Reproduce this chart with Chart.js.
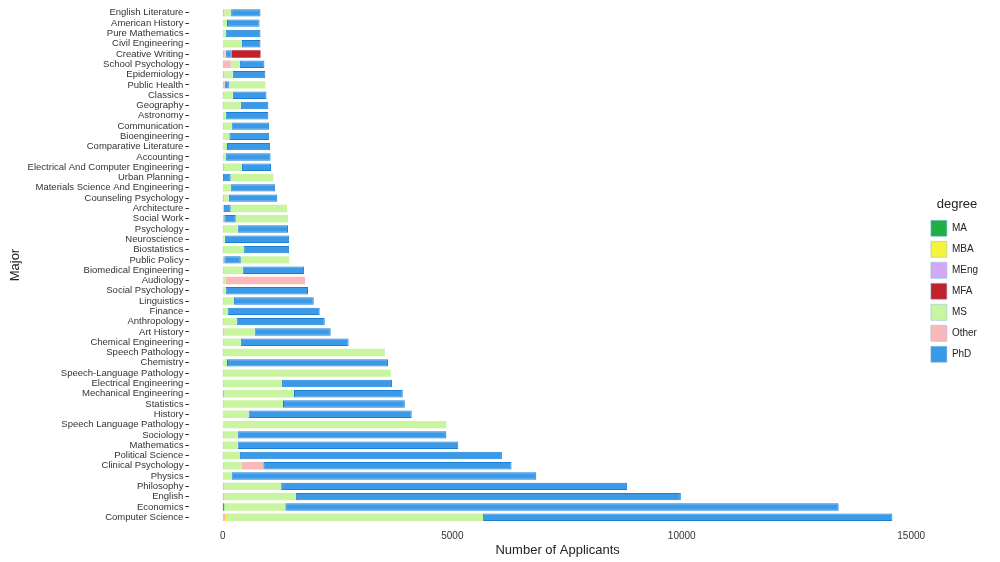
<!DOCTYPE html>
<html>
<head>
<meta charset="utf-8">
<script src="https://cdn.jsdelivr.net/npm/chart.js@4"></script>
<style>
  html, body { margin: 0; padding: 0; background: #fff; }
  #wrap { width: 1000px; height: 562px; }
</style>
</head>
<body>
<div id="wrap"><canvas id="c"></canvas></div>
<script>
// Majors, top to bottom
const majors = ["English Literature", "American History", "Pure Mathematics", "Civil Engineering", "Creative Writing",
  "School Psychology", "Epidemiology", "Public Health", "Classics", "Geography", "Astronomy", "Communication",
  "Bioengineering", "Comparative Literature", "Accounting", "Electrical And Computer Engineering", "Urban Planning",
  "Materials Science And Engineering", "Counseling Psychology", "Architecture", "Social Work", "Psychology",
  "Neuroscience", "Biostatistics", "Public Policy", "Biomedical Engineering", "Audiology", "Social Psychology",
  "Linguistics", "Finance", "Anthropology", "Art History", "Chemical Engineering", "Speech Pathology", "Chemistry",
  "Speech-Language Pathology", "Electrical Engineering", "Mechanical Engineering", "Statistics", "History",
  "Speech Language Pathology", "Sociology", "Mathematics", "Political Science", "Clinical Psychology", "Physics",
  "Philosophy", "English", "Economics", "Computer Science"];

// applicant counts per degree (same order as majors)
const otherLeft = [30,0,0,0,40, 170,30,40,20,20, 0,20,0,0,0, 0,0,0,30,20, 30,20,0,20,30, 20,0,0,20,20, 20,30,20,20,0, 20,20,0,20,0, 0,20,20,20,20, 0,30,30,0,60];
const phdLeft   = [0,0,0,0,0, 0,0,90,0,0, 0,0,0,0,0, 0,170,0,0,150, 250,0,0,0,360, 0,0,0,0,0, 0,0,0,0,0, 0,0,0,0,0, 0,0,0,0,0, 0,0,0,0,0];
const ma        = [0,0,0,0,0, 0,0,0,0,0, 0,0,0,0,0, 0,0,0,0,0, 0,0,0,0,0, 0,0,0,0,0, 0,0,0,0,0, 0,0,0,0,0, 0,0,0,0,0, 0,0,0,30,0];
const mba       = [0,0,0,0,0, 0,0,0,0,0, 0,0,0,0,0, 0,0,0,0,0, 0,0,0,0,0, 0,0,0,0,0, 0,0,0,0,0, 0,0,0,0,0, 30,0,0,0,0, 0,0,0,0,30];
const meng      = [0,0,0,0,0, 0,0,0,0,0, 0,0,0,0,0, 20,0,0,0,0, 0,0,0,0,0, 0,0,0,0,0, 0,0,0,0,0, 0,0,30,0,0, 0,0,0,0,0, 0,0,0,0,0];
const ms        = [150,90,60,415,30, 200,185,795,195,370, 60,170,140,90,60, 395,930,170,100,1230, 1140,300,40,430,1055, 410,60,60,220,80, 280,660,370,3510,90, 3640,1270,1520,1290,560, 4840,300,300,350,390, 190,1240,1560,1330,5580];
const otherMid  = [0,0,0,0,0, 0,0,0,0,0, 0,0,0,0,0, 0,0,0,0,0, 0,0,0,0,0, 0,1730,0,0,0, 0,0,0,0,0, 0,0,0,0,0, 0,0,0,0,470, 0,0,0,0,0];
const phd       = [640,710,760,405,120, 535,710,0,735,600, 930,820,870,940,980, 635,0,970,1055,0, 0,1100,1405,995,0, 1340,0,1795,1740,2010, 1920,1660,2350,0,3510, 0,2395,2370,2655,3555, 0,4550,4810,5710,5410, 6640,7540,8390,12060,8920];
const mfa       = [0,0,0,0,630, 0,0,0,0,0, 0,0,0,0,0, 0,0,0,0,0, 0,0,0,0,0, 0,0,0,0,0, 0,0,0,0,0, 0,0,0,0,0, 0,0,0,0,0, 0,0,0,0,0];
const xTicks = [0, 5000, 10000, 15000];

const col = { MA: "#1fb045", MBA: "#f4f43c", MEng: "#d3a8f6", MFA: "#c0232b", MS: "#c9f5a1", Other: "#f9b9b9", PhD: "#3a9ae8" };
const legendOrder = ["MA", "MBA", "MEng", "MFA", "MS", "Other", "PhD"];

function ds(label, data, c) {
  return {
    label: label, data: data, backgroundColor: c,
    borderColor: label === "PhD" ? "#1c7fd6" : c, borderWidth: label === "PhD" ? 1 : 0,
    borderSkipped: false, barPercentage: 0.72, categoryPercentage: 1
  };
}

new Chart(document.getElementById("c"), {
  type: "bar",
  data: {
    labels: majors,
    datasets: [
      ds("Other", otherLeft, col.Other),
      ds("PhD", phdLeft, col.PhD),
      ds("MA", ma, col.MA),
      ds("MBA", mba, col.MBA),
      ds("MEng", meng, col.MEng),
      ds("MS", ms, col.MS),
      ds("Other", otherMid, col.Other),
      ds("PhD", phd, col.PhD),
      ds("MFA", mfa, col.MFA)
    ]
  },
  options: {
    indexAxis: "y",
    responsive: true,
    maintainAspectRatio: false,
    animation: false,
    layout: { padding: { top: 7, right: 12, bottom: 4, left: 6 } },
    plugins: {
      tooltip: { enabled: false },
      legend: {
        position: "right",
        title: { display: true, text: "degree", color: "#222", font: { family: "Liberation Sans", size: 13 }, padding: { top: 0, bottom: 2 } },
        labels: {
          boxWidth: 16, boxHeight: 16, padding: 5, color: "#222",
          font: { family: "Liberation Sans", size: 10 },
          generateLabels: chart => legendOrder.map(n => ({
            text: n, fillStyle: col[n], strokeStyle: "#8fb7d8", lineWidth: 0.5, hidden: false, fontColor: "#222"
          }))
        },
        onClick: null
      }
    },
    scales: {
      x: {
        stacked: true, min: -730, max: 15320,
        afterBuildTicks: s => { s.ticks = xTicks.map(v => ({ value: v })); },
        grid: { display: false },
        border: { display: false },
        ticks: { color: "#333", font: { family: "Liberation Sans", size: 10 }, padding: 0, callback: v => String(v) },
        title: { display: true, text: "Number of Applicants", color: "#222", font: { family: "Liberation Sans", size: 13 }, padding: { top: 0, bottom: 0 } }
      },
      y: {
        stacked: true,
        grid: { display: true, drawOnChartArea: false, offset: false, tickLength: 4, color: "#333" },
        border: { display: false },
        ticks: { color: "#333", font: { family: "Liberation Sans", size: 9.5 }, padding: 2, autoSkip: false },
        title: { display: true, text: "Major", color: "#222", font: { family: "Liberation Sans", size: 13 }, padding: 2 }
      }
    }
  }
});
</script>
</body>
</html>
